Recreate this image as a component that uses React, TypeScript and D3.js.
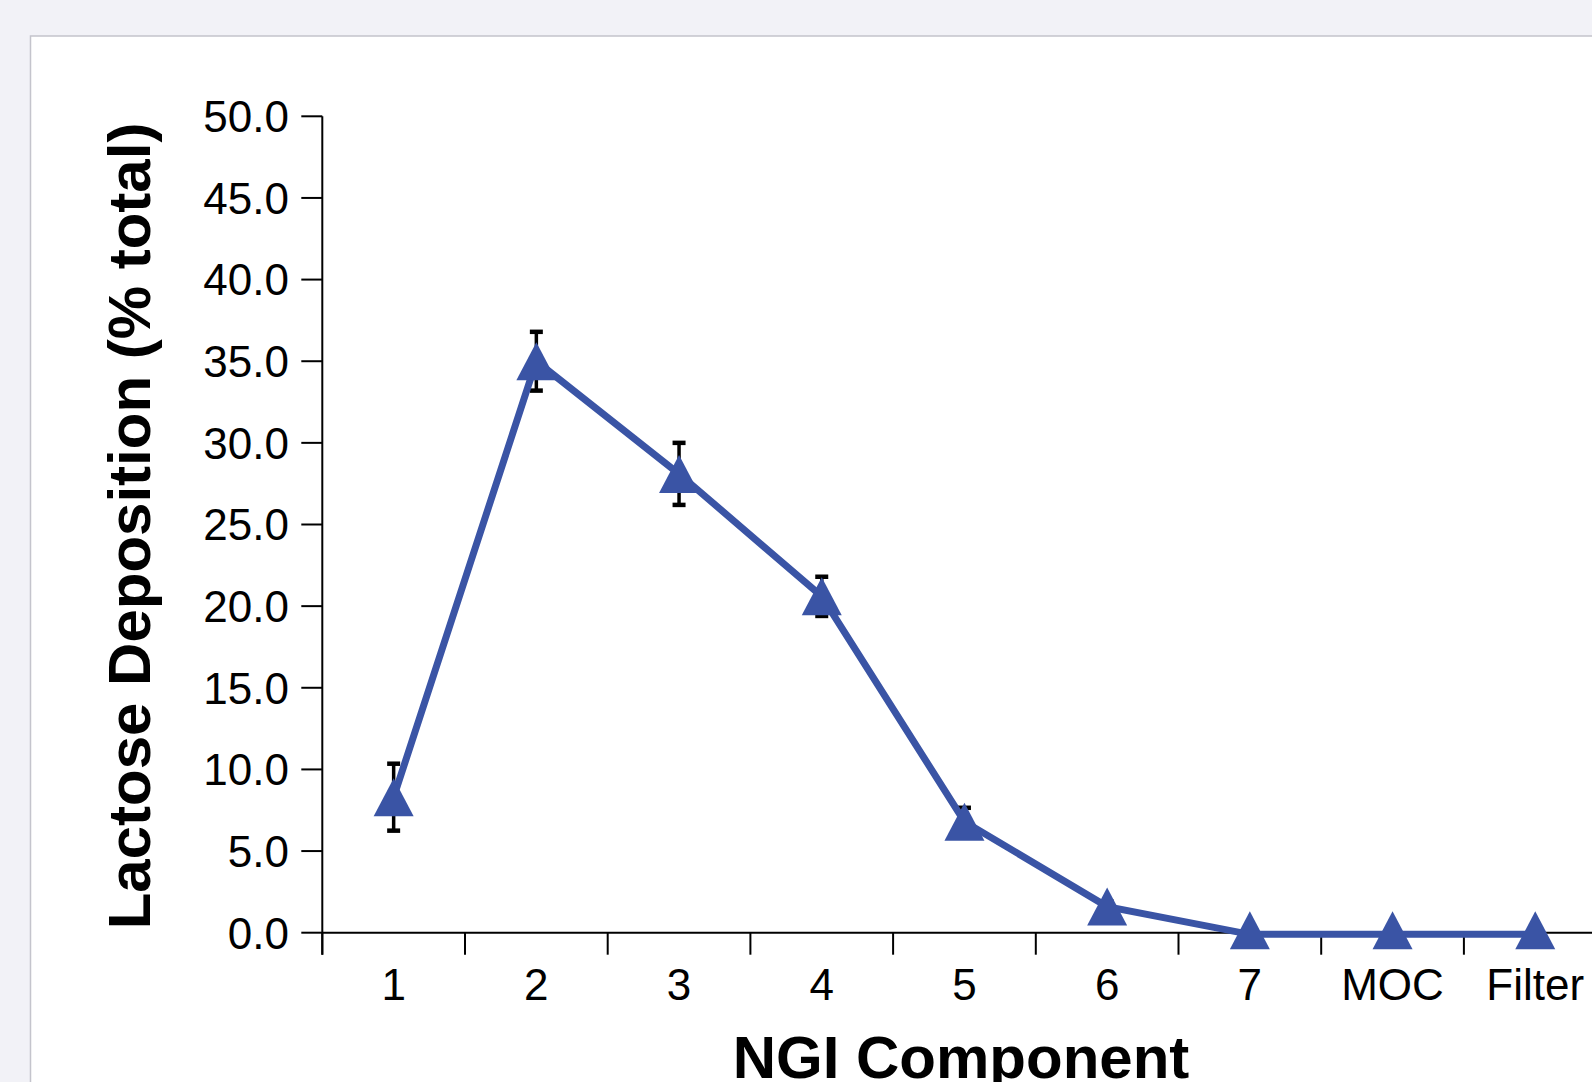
import React from "react";
import * as d3 from "d3";

const categories = ["1", "2", "3", "4", "5", "6", "7", "MOC", "Filter"];
const values = [8.3, 35.0, 28.1, 20.6, 6.8, 1.6, -0.1, -0.1, -0.1];
const errors = [2.05, 1.8, 1.9, 1.2, 0.85, 0.3, 0.0, 0.0, 0.0];
const yTicks = [0, 5, 10, 15, 20, 25, 30, 35, 40, 45, 50];

const W = 1592;
const H = 1082;
const FONT = "'Liberation Sans', Arial, Helvetica, sans-serif";
const BLUE = "#3a54a5";

export default function App() {
  const x0 = 322.3;
  const band = 142.7;
  const yTop = 116.3;
  const yBot = 932.7;

  const x = d3
    .scaleBand<string>()
    .domain(categories)
    .range([x0, x0 + band * categories.length])
    .paddingInner(0)
    .paddingOuter(0);
  const y = d3.scaleLinear().domain([0, 50]).range([yBot, yTop]);
  const cx = (c: string) => (x(c) as number) + x.bandwidth() / 2;

  const pts = categories.map((c, i) => [cx(c), y(values[i])] as [number, number]);
  const line = d3.line()(pts) as string;

  const triW = 40;
  const triH = 38;
  const tri = (px: number, py: number) =>
    `M${px},${py - triH / 2}L${px + triW / 2},${py + triH / 2}L${px - triW / 2},${py + triH / 2}Z`;

  const boundaries = d3.range(categories.length + 1).map((i) => x0 + i * band);

  return (
    <div style={{ position: "absolute", left: 0, top: 0, width: W, height: H, overflow: "hidden" }}>
      <svg width={W} height={H} style={{ display: "block" }}>
        <rect x={0} y={0} width={W} height={H} fill="#f2f2f7" />
        <rect x={30.5} y={36} width={W + 20} height={H + 20} fill="#ffffff" stroke="#c4c4cc" strokeWidth={1.5} />

        {/* Y axis */}
        <line x1={x0} x2={x0} y1={yTop} y2={yBot + 22} stroke="#000" strokeWidth={2} />
        {yTicks.map((t) => (
          <g key={t}>
            <line x1={x0 - 21} x2={x0} y1={y(t)} y2={y(t)} stroke="#000" strokeWidth={2} />
            <text
              x={289}
              y={y(t)}
              dy="0.36em"
              textAnchor="end"
              fontFamily={FONT}
              fontSize={44}
              fill="#000"
            >
              {t.toFixed(1)}
            </text>
          </g>
        ))}

        {/* X axis */}
        <line x1={x0} x2={W} y1={yBot} y2={yBot} stroke="#000" strokeWidth={2} />
        {boundaries.map((b, i) => (
          <line key={i} x1={b} x2={b} y1={yBot} y2={yBot + 22} stroke="#000" strokeWidth={2} />
        ))}
        {categories.map((c) => (
          <text
            key={c}
            x={cx(c)}
            y={1000}
            textAnchor="middle"
            fontFamily={FONT}
            fontSize={44}
            fill="#000"
          >
            {c}
          </text>
        ))}

        {/* Error bars */}
        {categories.map((c, i) =>
          errors[i] > 0 ? (
            <g key={"e" + c}>
              <line
                x1={cx(c)}
                x2={cx(c)}
                y1={y(values[i] + errors[i])}
                y2={y(values[i] - errors[i])}
                stroke="#000"
                strokeWidth={3.5}
              />
              <line
                x1={cx(c) - 6.5}
                x2={cx(c) + 6.5}
                y1={y(values[i] + errors[i])}
                y2={y(values[i] + errors[i])}
                stroke="#000"
                strokeWidth={4.5}
              />
              <line
                x1={cx(c) - 6.5}
                x2={cx(c) + 6.5}
                y1={y(values[i] - errors[i])}
                y2={y(values[i] - errors[i])}
                stroke="#000"
                strokeWidth={4.5}
              />
            </g>
          ) : null
        )}

        {/* Line */}
        <path d={line} fill="none" stroke={BLUE} strokeWidth={7} strokeLinejoin="miter" />
        {pts.map(([px, py], i) => (
          <path key={"m" + i} d={tri(px, py - (values[i] <= 0 ? 4 : 0))} fill={BLUE} />
        ))}

        {/* Axis titles */}
        <text
          x={961}
          y={1077.5}
          textAnchor="middle"
          fontFamily={FONT}
          fontWeight="bold"
          fontSize={60}
          fill="#000"
        >
          NGI Component
        </text>
        <text
          transform={`translate(150,526) rotate(-90)`}
          textAnchor="middle"
          fontFamily={FONT}
          fontWeight="bold"
          fontSize={60}
          fill="#000"
        >
          Lactose Deposition (% total)
        </text>
      </svg>
    </div>
  );
}
